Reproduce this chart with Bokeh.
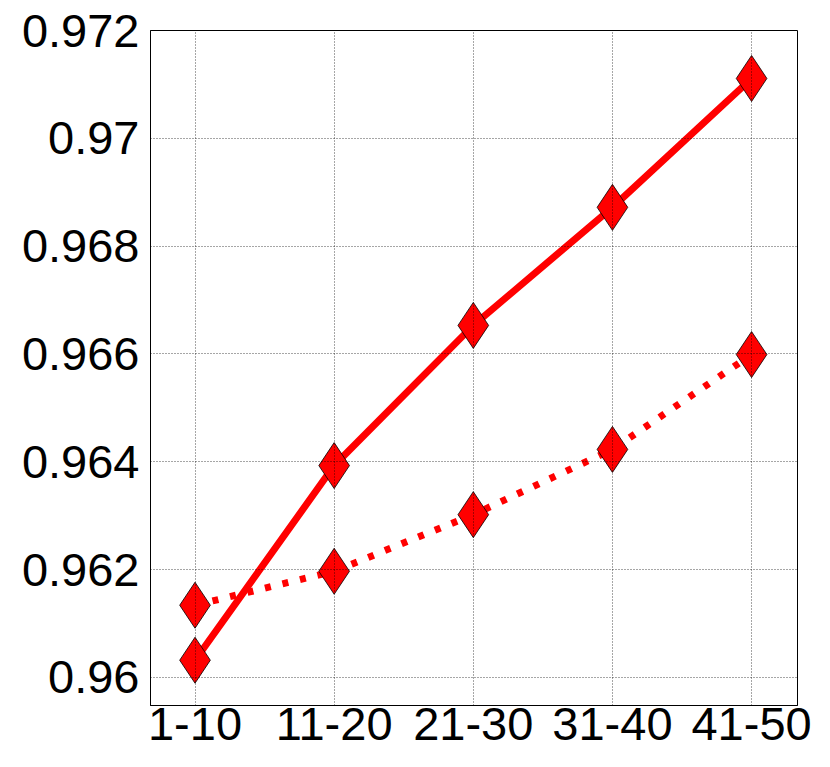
from bokeh.plotting import figure
from bokeh.models import Range1d, FixedTicker
from bokeh.embed import file_html
from bokeh.resources import INLINE

categories = ["1-10", "11-20", "21-30", "31-40", "41-50"]
solid_vals = [0.96032, 0.96393, 0.96653, 0.96872, 0.97111]
dotted_vals = [0.96134, 0.96197, 0.96302, 0.96423, 0.96599]
yticks = [0.96, 0.962, 0.964, 0.966, 0.968, 0.97, 0.972]
ytick_labels = ["0.96", "0.962", "0.964", "0.966", "0.968", "0.97", "0.972"]

xs = list(range(len(categories)))

p = figure(width=830, height=767, output_backend="svg", toolbar_location=None,
           x_range=Range1d(-0.32, 4.33), y_range=Range1d(0.95948, 0.972),
           min_border_left=150, min_border_right=33, min_border_top=30, min_border_bottom=62)

p.line(xs, dotted_vals, line_color="red", line_width=7, line_dash="6 12")
p.line(xs, solid_vals, line_color="red", line_width=7)
p.scatter(xs, dotted_vals, marker="diamond", size=46, fill_color="red", line_color="black", line_width=0.8)
p.scatter(xs, solid_vals, marker="diamond", size=46, fill_color="red", line_color="black", line_width=0.8)

p.xaxis.ticker = FixedTicker(ticks=xs)
p.xaxis.major_label_overrides = {i: c for i, c in enumerate(categories)}
p.yaxis.ticker = FixedTicker(ticks=yticks)
p.yaxis.major_label_overrides = {t: l for t, l in zip(yticks, ytick_labels)}

for ax in (p.xaxis, p.yaxis):
    ax.major_label_text_font = "Liberation Sans"
    ax.major_label_text_font_size = "47px"
    ax.major_label_text_color = "black"
    ax.major_tick_in = 0
    ax.major_tick_out = 0
    ax.minor_tick_in = 0
    ax.minor_tick_out = 0
    ax.axis_line_color = "black"
p.xaxis.major_label_standoff = 2
p.yaxis.major_label_standoff = 11

for g in (p.xgrid, p.ygrid):
    g.grid_line_color = "black"
    g.grid_line_dash = "1 2"
    g.grid_line_width = 1
    g.grid_line_alpha = 0.7
    g.level = "overlay"
p.xgrid.ticker = FixedTicker(ticks=xs)
p.ygrid.ticker = FixedTicker(ticks=yticks)

p.outline_line_color = "black"
p.outline_line_width = 1
p.background_fill_color = "white"
p.border_fill_color = "white"

open("out.html", "w").write(file_html(p, INLINE))
